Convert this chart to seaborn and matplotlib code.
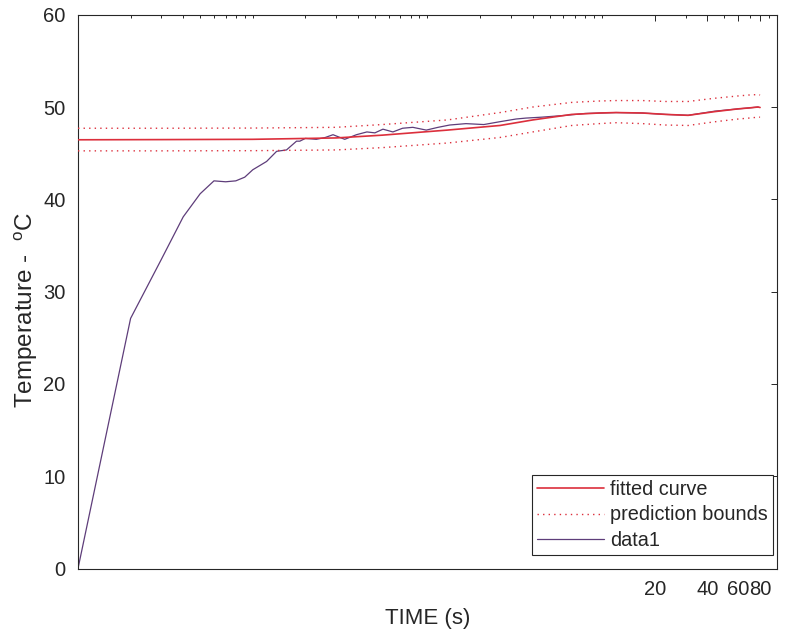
import matplotlib
matplotlib.use('Agg')
import matplotlib.pyplot as plt
from matplotlib.ticker import LogLocator, NullFormatter
import seaborn as sns
import numpy as np

# 数据
data_x = [0.01, 0.02, 0.03, 0.04, 0.05, 0.06, 0.07, 0.08, 0.09, 0.10, 0.12, 0.137,
          0.156, 0.178, 0.186, 0.2, 0.231, 0.26, 0.288, 0.336, 0.392, 0.45, 0.5,
          0.556, 0.634, 0.72, 0.824, 0.984, 1.15, 1.34, 1.66, 2.1, 2.58, 3.21, 3.65,
          4.5, 6.2, 8, 12, 17, 23, 31, 44, 60, 69, 78]
data_y = [0, 27.1, 33.5, 38.1, 40.6, 42.0, 41.9, 42.0, 42.4, 43.2, 44.1, 45.2,
          45.35, 46.3, 46.3, 46.6, 46.5, 46.7, 47.0, 46.5, 47.0, 47.3, 47.2,
          47.6, 47.3, 47.7, 47.8, 47.5, 47.8, 48.05, 48.2, 48.1, 48.4, 48.7, 48.8,
          48.9, 49.1, 49.3, 49.4, 49.35, 49.2, 49.1, 49.55, 49.8, 49.9, 50.0]

fit_x = [0.01, 0.03, 0.1, 0.3, 0.55, 1.3, 2.6, 4.0, 6.7, 9.6, 12, 17, 23, 31, 44, 60, 69, 78, 80]
fit_y = [46.45, 46.47, 46.5, 46.65, 46.95, 47.5, 48.0, 48.6, 49.2, 49.35, 49.4, 49.35,
         49.2, 49.1, 49.5, 49.8, 49.9, 50.0, 49.95]
upper_y = [47.7, 47.7, 47.72, 47.8, 48.1, 48.6, 49.4, 50.0, 50.5, 50.65, 50.7, 50.7,
           50.6, 50.6, 50.95, 51.2, 51.3, 51.35, 51.3]
lower_y = [45.25, 45.25, 45.27, 45.35, 45.6, 46.1, 46.7, 47.3, 48.0, 48.2, 48.3, 48.2,
           48.05, 48.0, 48.4, 48.7, 48.8, 48.9, 48.9]

x_ticks = [20, 40, 60, 80]
x_ticklabels = ['20', '40', '60', '80']
y_ticks = [0, 10, 20, 30, 40, 50, 60]

# 风格
sns.set_style('white')
plt.rcParams['font.family'] = ['Liberation Sans', 'DejaVu Sans']
plt.rcParams['mathtext.fontset'] = 'custom'
plt.rcParams['mathtext.rm'] = 'Liberation Sans'
plt.rcParams['mathtext.it'] = 'Liberation Sans:italic'

dark = '#262626'
red = '#dc2f3c'
purple = '#5e3d7a'

fig = plt.figure(figsize=(7.91, 6.37), dpi=100, facecolor='white')
ax = fig.add_axes([0.0986, 0.1075, 0.8837, 0.8694])

sns.lineplot(x=data_x, y=data_y, ax=ax, color=purple, linewidth=0.9, zorder=2)
sns.lineplot(x=fit_x, y=fit_y, ax=ax, color=red, linewidth=1.2, zorder=3)
sns.lineplot(x=fit_x, y=upper_y, ax=ax, color=red, linewidth=1.0,
             linestyle=(0, (1, 3)), zorder=3)
sns.lineplot(x=fit_x, y=lower_y, ax=ax, color=red, linewidth=1.0,
             linestyle=(0, (1, 3)), zorder=3)

ax.set_xscale('log')
ax.set_xlim(0.01, 100)
ax.set_ylim(0, 60)
ax.set_xticks(x_ticks)
ax.set_xticklabels(x_ticklabels)
ax.xaxis.set_minor_locator(LogLocator(base=10, subs=np.arange(1, 10), numticks=50))
ax.xaxis.set_minor_formatter(NullFormatter())
ax.set_yticks(y_ticks)

for s in ax.spines.values():
    s.set_visible(True)
    s.set_color(dark)
    s.set_linewidth(0.8)

ax.tick_params(which='both', direction='in', top=True, right=True,
               colors=dark, labelcolor=dark)
ax.tick_params(axis='both', which='major', length=4.3, width=0.7, labelsize=14.5)
ax.tick_params(axis='x', which='minor', length=2.2, width=0.7)
ax.tick_params(axis='x', which='major', pad=8)
ax.tick_params(axis='y', which='major', pad=9)

ax.set_xlabel('TIME (s)', fontsize=16, color=dark)
ax.set_ylabel('Temperature -  $^{\\mathrm{o}}$C', fontsize=17.5, color=dark)
ax.xaxis.set_label_coords(0.5, -0.072)
ax.yaxis.set_label_coords(-0.055, 0.467)

# 图例
h = ax.get_lines()
leg = ax.legend([h[1], h[2], h[0]], ['fitted curve', 'prediction bounds', 'data1'],
                loc='lower right', bbox_to_anchor=(0.9943, 0.0244), borderaxespad=0,
                fontsize=14.3, handlelength=3.4, handletextpad=0.3, borderpad=0.25,
                labelspacing=0.33, fancybox=False, framealpha=1, edgecolor=dark)
leg.get_frame().set_linewidth(0.8)
for t in leg.get_texts():
    t.set_color(dark)

fig.savefig('out.png', dpi=100, facecolor='white')
